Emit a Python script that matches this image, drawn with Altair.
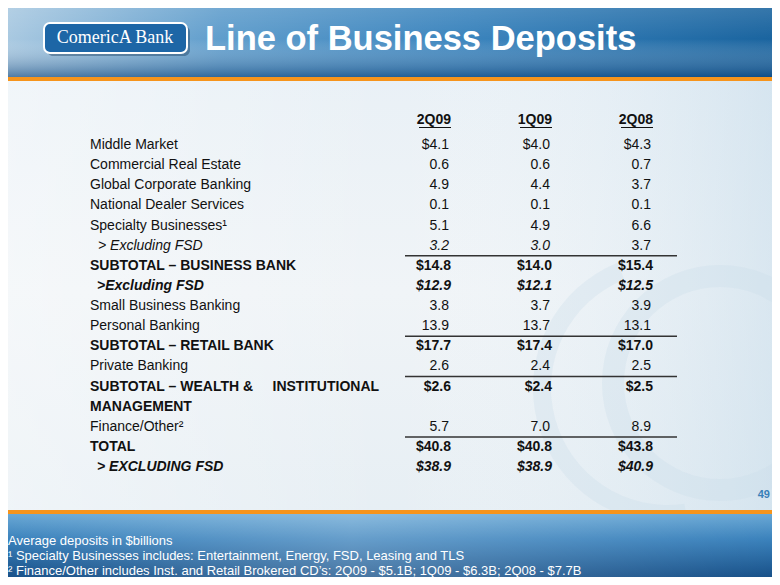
import altair as alt
import pandas as pd

# ---------------- data ----------------
periods = ["2Q09", "1Q09", "2Q08"]
lines = [
    "Middle Market",
    "Commercial Real Estate",
    "Global Corporate Banking",
    "National Dealer Services",
    "Specialty Businesses\u00b9",
    "> Excluding FSD",
    "SUBTOTAL \u2013 BUSINESS BANK",
    ">Excluding FSD",
    "Small Business Banking",
    "Personal Banking",
    "SUBTOTAL \u2013 RETAIL BANK",
    "Private Banking",
    "SUBTOTAL \u2013 WEALTH &" + "\u00a0" * 4 + " INSTITUTIONAL",
    "MANAGEMENT",
    "Finance/Other\u00b2",
    "TOTAL",
    "> EXCLUDING FSD",
]
kinds = ["item", "item", "item", "item", "item", "sub", "subtotal", "subtotal_sub",
         "item", "item", "subtotal", "item", "subtotal", "subtotal_cont", "item",
         "subtotal", "subtotal_sub"]
v_2q09 = ["$4.1", "0.6", "4.9", "0.1", "5.1", "3.2", "$14.8", "$12.9", "3.8", "13.9",
          "$17.7", "2.6", "$2.6", "", "5.7", "$40.8", "$38.9"]
v_1q09 = ["$4.0", "0.6", "4.4", "0.1", "4.9", "3.0", "$14.0", "$12.1", "3.7", "13.7",
          "$17.4", "2.4", "$2.4", "", "7.0", "$40.8", "$38.9"]
v_2q08 = ["$4.3", "0.7", "3.7", "0.1", "6.6", "3.7", "$15.4", "$12.5", "3.9", "13.1",
          "$17.0", "2.5", "$2.5", "", "8.9", "$43.8", "$40.9"]

title_text = "Line of Business Deposits"
logo_text = "ComericA Bank"
page_no = "49"
notes = [
    "Average deposits in $billions",
    "\u00b9 Specialty Businesses includes: Entertainment, Energy, FSD, Leasing and TLS",
    "\u00b2 Finance/Other includes Inst. and Retail Brokered CD\u2019s: 2Q09 - $5.1B; 1Q09 - $6.3B; 2Q08 - $7.7B",
]

# ---------------- tables ----------------
rows = pd.DataFrame({"line": lines, "kind": kinds})
vals = []
for per, col in zip(periods, [v_2q09, v_1q09, v_2q08]):
    for ln, k, v in zip(lines, kinds, col):
        if v:
            vals.append({"line": ln, "kind": k, "period": per, "value": v})
vals = pd.DataFrame(vals)
hdr = pd.DataFrame({"period": periods})
dummy = pd.DataFrame({"a": [0]})

W, H = 764, 569
FONT = "Liberation Sans"
INK = "#111111"

ysc = alt.Scale(type="point", domain=lines, range=[137, 459], padding=0)
xsc = alt.Scale(type="point", domain=periods, range=[441, 643], padding=0)
Y = alt.Y("line:N", scale=ysc, axis=None)
X = alt.X("period:N", scale=xsc, axis=None)


def grad(stops, x2=1, y2=0):
    return alt.Gradient(
        gradient="linear",
        stops=[alt.GradientStop(color=c, offset=o) for o, c in stops],
        x1=0, y1=0, x2=x2, y2=y2,
    )


base = alt.Chart(dummy)

# backgrounds
bg = base.mark_rect(color=grad([(0, "#d3e3ef"), (0.06, "#e8f0f6"), (0.5, "#f0f4f7"), (1, "#e4edf3")], x2=0, y2=1)).encode(
    x=alt.value(0), x2=alt.value(W), y=alt.value(0), y2=alt.value(H))
bg2 = base.mark_rect(color=grad([(0, "rgba(255,255,255,0.35)"), (0.5, "rgba(255,255,255,0)"), (1, "rgba(190,215,232,0.45)")])).encode(
    x=alt.value(0), x2=alt.value(W), y=alt.value(73), y2=alt.value(502))

hdr_bg = base.mark_rect(color=grad([(0, "#a9c9e1"), (0.28, "#5f9dcc"), (0.6, "#3b84bd"), (1, "#1a649f")])).encode(
    x=alt.value(0), x2=alt.value(W), y=alt.value(0), y2=alt.value(69))
hdr_shade = base.mark_rect(color=grad([(0, "rgba(255,255,255,0.12)"), (0.45, "rgba(255,255,255,0)"), (1, "rgba(8,60,115,0.55)")], x2=0, y2=1)).encode(
    x=alt.value(0), x2=alt.value(W), y=alt.value(0), y2=alt.value(69))
orange_top = base.mark_rect(color="#f6941c").encode(
    x=alt.value(0), x2=alt.value(W), y=alt.value(69), y2=alt.value(73))

orange_bot = base.mark_rect(color="#f6941c").encode(
    x=alt.value(0), x2=alt.value(W), y=alt.value(502), y2=alt.value(506))
ftr_bg = base.mark_rect(color=grad([(0, "#6aa8d5"), (0.4, "#3b82bc"), (1, "#185189")], x2=0, y2=1)).encode(
    x=alt.value(0), x2=alt.value(W), y=alt.value(506), y2=alt.value(H))
ftr_shade = base.mark_rect(color=grad([(0, "rgba(255,255,255,0)"), (0.45, "rgba(255,255,255,0.22)"), (1, "rgba(255,255,255,0)")])).encode(
    x=alt.value(0), x2=alt.value(W), y=alt.value(506), y2=alt.value(H))

# watermark
wm1 = base.mark_arc(radius=118, radius2=96, theta=0, theta2=6.2832, color="#c9dcea", opacity=0.32).encode(
    x=alt.value(712), y=alt.value(375))
wm2 = base.mark_arc(radius=135, radius2=117, theta=3.0, theta2=5.9, color="#c9dcea", opacity=0.32).encode(
    x=alt.value(660), y=alt.value(380))

# logo
logo_shadow = base.mark_rect(cornerRadius=6, color="rgba(0,35,70,0.35)").encode(
    x=alt.value(39), x2=alt.value(182), y=alt.value(18), y2=alt.value(48))
logo_box = base.mark_rect(cornerRadius=6, color="#1d66a6", stroke="white", strokeWidth=2).encode(
    x=alt.value(36), x2=alt.value(179), y=alt.value(15), y2=alt.value(45))
logo = base.mark_text(text=logo_text, font="Liberation Serif", fontSize=18, color="white",
                      align="center", baseline="middle").encode(x=alt.value(107), y=alt.value(30))

title = base.mark_text(text=title_text, font=FONT, fontSize=34.5, fontWeight="bold", color="white",
                       align="left", baseline="alphabetic").encode(x=alt.value(197), y=alt.value(42))

# column headers
headers = alt.Chart(hdr).mark_text(font=FONT, fontSize=14, fontWeight="bold", color=INK,
                                   align="right", baseline="middle", dx=2).encode(
    x=X, y=alt.value(112), text="period:N")
underline = alt.Chart(hdr).mark_rule(color=INK, strokeWidth=1, xOffset=-30, x2Offset=2).encode(
    x=X, x2="period:N", y=alt.value(119.5))

# row labels
lab = alt.Chart(rows)
lab_item = lab.mark_text(font=FONT, fontSize=14, color=INK, align="left", baseline="middle").encode(
    x=alt.value(82), y=Y, text="line:N").transform_filter(alt.datum.kind == "item")
lab_sub = lab.mark_text(font=FONT, fontSize=14, fontStyle="italic", color=INK, align="left",
                        baseline="middle", dx=8).encode(
    x=alt.value(82), y=Y, text="line:N").transform_filter(alt.datum.kind == "sub")
lab_tot = lab.mark_text(font=FONT, fontSize=14, fontWeight="bold", color=INK, align="left",
                        baseline="middle").encode(
    x=alt.value(82), y=Y, text="line:N").transform_filter(
    (alt.datum.kind == "subtotal") | (alt.datum.kind == "subtotal_cont"))
lab_totsub = lab.mark_text(font=FONT, fontSize=14, fontWeight="bold", fontStyle="italic", color=INK,
                           align="left", baseline="middle", dx=7).encode(
    x=alt.value(82), y=Y, text="line:N").transform_filter(alt.datum.kind == "subtotal_sub")

# values
vv = alt.Chart(vals)
val_item = vv.mark_text(font=FONT, fontSize=14, color=INK, align="right", baseline="middle").encode(
    x=X, y=Y, text="value:N").transform_filter(
    (alt.datum.kind == "item") | ((alt.datum.kind == "sub") & (alt.datum.period == "2Q08")))
val_sub = vv.mark_text(font=FONT, fontSize=14, fontStyle="italic", color=INK, align="right",
                       baseline="middle").encode(
    x=X, y=Y, text="value:N").transform_filter(
    (alt.datum.kind == "sub") & (alt.datum.period != "2Q08"))
val_tot = vv.mark_text(font=FONT, fontSize=14, fontWeight="bold", color=INK, align="right",
                       baseline="middle", dx=2).encode(
    x=X, y=Y, text="value:N").transform_filter(alt.datum.kind == "subtotal")
val_totsub = vv.mark_text(font=FONT, fontSize=14, fontWeight="bold", fontStyle="italic", color=INK,
                          align="right", baseline="middle", dx=2).encode(
    x=X, y=Y, text="value:N").transform_filter(alt.datum.kind == "subtotal_sub")

# separators above subtotal rows
seps = lab.mark_rule(color="#333333", strokeWidth=1.5, yOffset=-10).encode(
    x=alt.value(397), x2=alt.value(669), y=Y).transform_filter(alt.datum.kind == "subtotal")

page = base.mark_text(text=page_no, font=FONT, fontSize=11, fontWeight="bold", color="#3a80b8",
                      align="right", baseline="middle").encode(x=alt.value(762), y=alt.value(487))

foot = base.mark_text(text=notes, font=FONT, fontSize=13, color="white", align="left",
                      baseline="middle", lineHeight=15).encode(x=alt.value(0), y=alt.value(533))

chart = alt.layer(
    bg, bg2, wm1, wm2, hdr_bg, hdr_shade, orange_top, ftr_bg, ftr_shade, orange_bot,
    logo_shadow, logo_box, logo, title, headers, underline,
    lab_item, lab_sub, lab_tot, lab_totsub, val_item, val_sub, val_tot, val_totsub, seps,
    page, foot,
).properties(width=W, height=H, padding=0, autosize="none", background="white").configure_view(stroke=None)

chart.save("out.html", embed_options={"renderer": "svg", "actions": False})
